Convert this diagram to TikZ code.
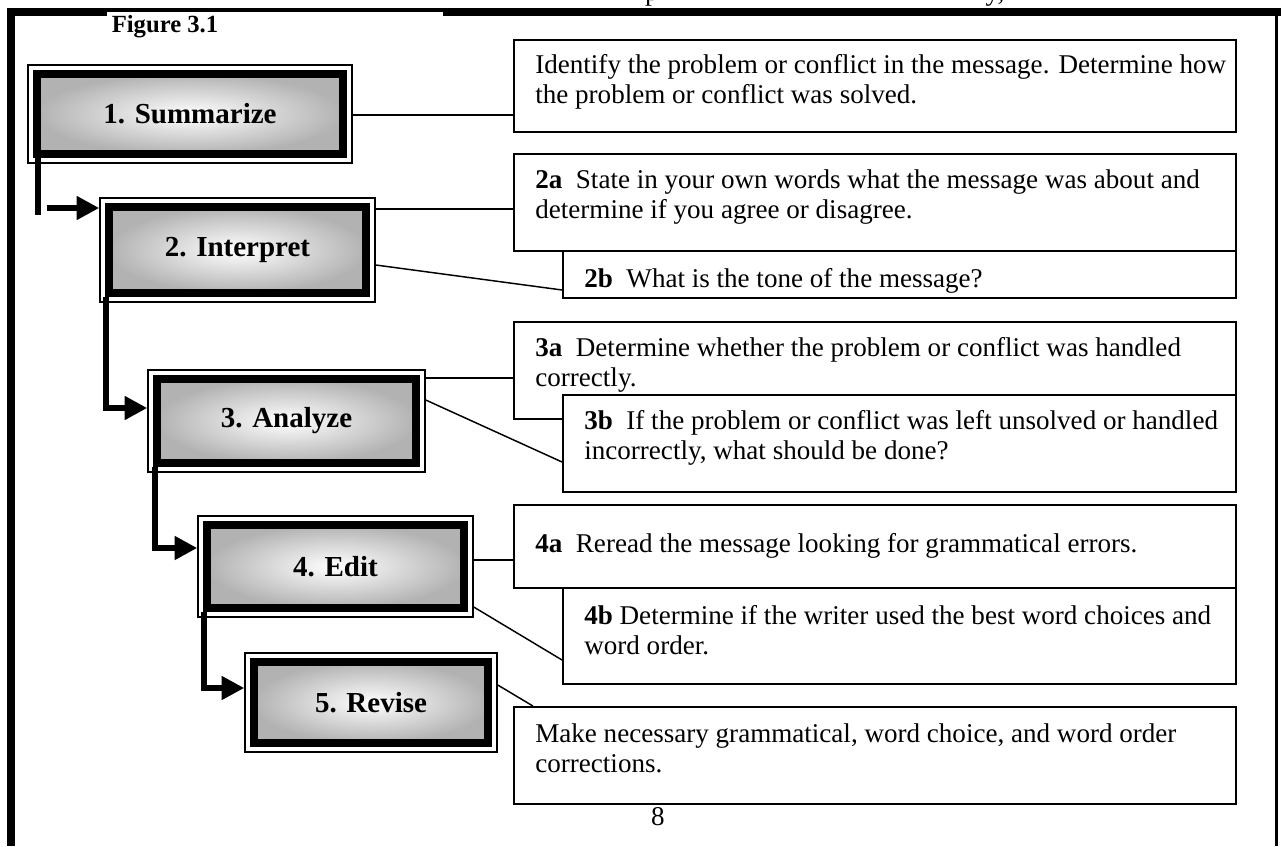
\documentclass[tikz,border=0pt]{standalone}
\usepackage{fontspec}
\setmainfont{Liberation Serif}
\usetikzlibrary{arrows.meta,calc,fit}

% one step of the flow: thin outer frame, thick shaded core, centred label
\newcommand\flowstep[6]{%
  \node[stepframe, fit={(#2,#3) (#4,#5)}] (#1) {};
  \node[stepcore, fit={(#2+9,#3+9) (#4-9,#5-9)}] (#1c) {};
  \node[steplabel] (#1t) at (#1c.center) {#6};
}

\begin{document}
\begin{tikzpicture}[x=0.75pt, y=-0.75pt,
  every node/.style={inner sep=0pt},
  body/.style={font=\fontsize{20.3}{22.5}\selectfont, anchor=north west, align=left},
  textbox/.style={draw=black, line width=1.4pt, fill=white},
  stepframe/.style={draw=black, line width=1.1pt, fill=white},
  stepcore/.style={draw=black, line width=6.4pt, inner color=white, outer color=black!30},
  steplabel/.style={font=\fontsize{21.75}{24}\selectfont\bfseries},
  figtitle/.style={font=\fontsize{18.5}{22}\selectfont\bfseries, anchor=base},
  link/.style={draw=black, line width=1.1pt},
  flow/.style={draw=black, line width=4.9pt, line join=miter},
  flowarrow/.style={flow, -{Triangle[length=17pt, width=17pt]}},
]
\useasboundingbox (0,0) rectangle (1281,846);
\clip (0,0) rectangle (1281,846);
\fill[white] (0,0) rectangle (1281,846);

% descenders of the line above, cut off by the page edge
\node[body, anchor=base] (frag-p) at (652,1) {p};
\node[body, anchor=base] (frag-y) at (995,1) {y,};

% page border
\fill (7,8) rectangle (15,846);
\fill (7,8) rectangle (107,16);
\fill (107,8) rectangle (443,12);
\fill (443,8) rectangle (1281,16);
\fill (1275,8) rectangle (1278,846);

\node[figtitle] (fig) at (165,32) {Figure 3.1};

% the five steps
\flowstep{b1}{28}{65}{352}{163}{1. Summarize}
\flowstep{b2}{100}{198}{375}{302}{2. Interpret}
\flowstep{b3}{148}{370}{425}{472}{3. Analyze}
\flowstep{b4}{198}{516}{473}{617}{4. Edit}
\flowstep{b5}{245}{653}{497}{752}{5. Revise}

% explanation boxes
\node[textbox, fit={(514,40) (1236,132)}] (A) {};
\node[textbox, fit={(514,154) (1236,251)}] (t2a) {};
\node[textbox, fit={(563,251) (1236,298)}] (t2b) {};
\node[textbox, fit={(514,322) (1236,419)}] (t3a) {};
\node[textbox, fit={(563,395) (1236,492)}] (t3b) {};
\node[textbox, fit={(514,505) (1236,588)}] (t4a) {};
\node[textbox, fit={(563,588) (1236,684)}] (t4b) {};
\node[textbox, fit={(514,707) (1236,804)}] (t5) {};

\node[body] (A-text) at ($(A.north west)+(22,13)$)
  {\strut Identify the problem or conflict in the message. Determine how\\
   the problem or conflict was solved.};
\node[body] (t2a-text) at ($(t2a.north west)+(22,14)$)
  {\strut\textbf{2a}~ State in your own words what the message was about and\\
   determine if you agree or disagree.};
\node[body] (t2b-text) at ($(t2b.north west)+(22,16)$)
  {\strut\textbf{2b}~ What is the tone of the message?};
\node[body] (t3a-text) at ($(t3a.north west)+(22,14)$)
  {\strut\textbf{3a}~ Determine whether the problem or conflict was handled\\
   correctly.};
\node[body] (t3b-text) at ($(t3b.north west)+(22,14)$)
  {\strut\textbf{3b}~ If the problem or conflict was left unsolved or handled\\
   incorrectly, what should be done?};
\node[body] (t4a-text) at ($(t4a.north west)+(22,27)$)
  {\strut\textbf{4a}~ Reread the message looking for grammatical errors.};
\node[body] (t4b-text) at ($(t4b.north west)+(22,16)$)
  {\strut\textbf{4b} Determine if the writer used the best word choices and\\
   word order.};
\node[body] (t5-text) at ($(t5.north west)+(22,15)$)
  {\strut Make necessary grammatical, word choice, and word order\\
   corrections.};

% thin leaders from the steps to their explanations
\draw[link] (b1.east |- 0,115) -- (A.west |- 0,115);
\draw[link] (b2.east |- 0,209) -- (t2a.west |- 0,209);
\draw[link] (b2.east |- 0,265) -- (t2b.west |- 0,290);
\draw[link] (b3.east |- 0,378) -- (t3a.west |- 0,378);
\draw[link] (b3.east |- 0,400) -- (t3b.west |- 0,462);
\draw[link] (b4.east |- 0,560) -- (t4a.west |- 0,560);
\draw[link] (b4.east |- 0,607) -- (t4b.west |- 0,660);
\draw[link] (b5.east |- 0,685) -- (t5.north -| 533,0);

% thick flow arrows between the steps
\coordinate (bar1end) at (38,215);
\coordinate (arr1start) at (47,208);
\draw[flow] (b1c.south -| bar1end) -- (bar1end);
\draw[flowarrow] (arr1start) -- (b2.west |- arr1start);
\draw[flowarrow] (b2c.south -| 106,0) |- (b3.west |- 0,408);
\draw[flowarrow] (b3c.south -| 155,0) |- (b4.west |- 0,548);
\draw[flowarrow] (b4c.south -| 204,0) |- (b5.west |- 0,688);

% page number
\node[body, anchor=base] (pagenum) at (658,825) {8};
\end{tikzpicture}
\end{document}
